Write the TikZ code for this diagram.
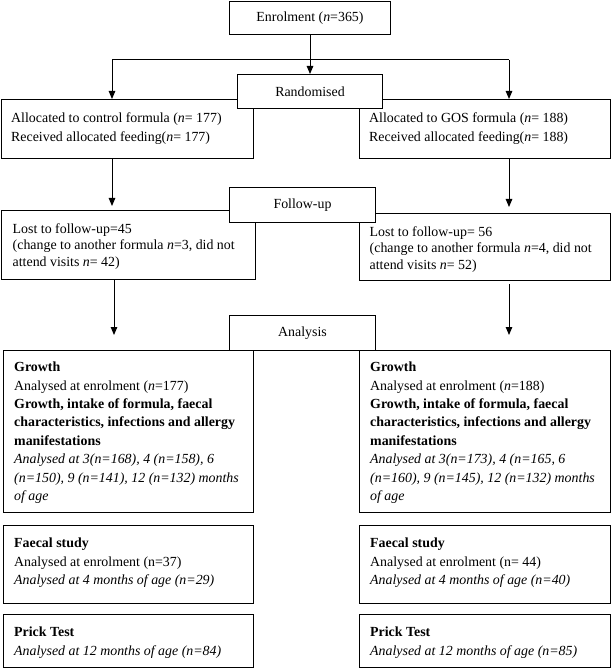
\documentclass[tikz,border=0pt]{standalone}
\usepackage{fontspec}
\setmainfont{Liberation Serif}
\usetikzlibrary{arrows.meta}
\newcommand{\firstln}{\rule{0pt}{11pt}}
\begin{document}
\begin{tikzpicture}[x=1pt,y=-1pt,
  box/.style={draw=black, line width=1pt, fill=white, inner sep=0pt, anchor=north west},
  cbox/.style={draw=black, line width=1pt, fill=white, inner sep=0pt, anchor=north west,
     font=\fontsize{13.9}{18.5}\selectfont},
  txt/.style={inner sep=0pt, anchor=north west, align=left, font=\fontsize{13.9}{18.35}\selectfont},
  txtb/.style={inner sep=0pt, anchor=north west, align=left, font=\fontsize{13.9}{16.5}\selectfont},
  arr/.style={line width=1pt, -{Triangle[length=8pt,width=6.5pt]}},
  ln/.style={line width=1pt}]
\useasboundingbox (0,0) rectangle (611,668);

% top
\node[cbox, minimum width=161pt, minimum height=33pt] (enrol) at (229,1) {Enrolment (\textit{n}=365)};
\coordinate (jL) at (112,60);
\coordinate (jR) at (509,60);

% allocation boxes
\node[box, minimum width=252pt, minimum height=59pt] (b1L) at (1,99) {};
\node[box, minimum width=251pt, minimum height=59pt] (b1R) at (359,99) {};
\node[txt] (t1L) at (11,111.7) {\firstln Allocated to control formula (\textit{n}= 177)\\Received allocated feeding(\textit{n}= 177)};
\node[txt] (t1R) at (369,111.7) {\firstln Allocated to GOS formula (\textit{n}= 188)\\Received allocated feeding(\textit{n}= 188)};
\node[cbox, minimum width=145pt, minimum height=34pt] (rand) at (237,74) {Randomised};

\draw[arr] (enrol.south) -- (rand.north);
\draw[ln] (jL) -- (jR);
\draw[arr] (jL) -- (jL |- b1L.north);
\draw[arr] (jR) -- (jR |- b1R.north);

% follow-up boxes
\node[box, minimum width=254pt, minimum height=69pt] (b2L) at (1,210) {};
\node[box, minimum width=251pt, minimum height=67pt] (b2R) at (359,213) {};
\node[txtb] (t2L) at (12.5,222) {\firstln Lost to follow-up=45\\(change to another formula \textit{n}=3, did not\\attend visits \textit{n}= 42)};
\node[txtb] (t2R) at (369.5,225) {\firstln Lost to follow-up= 56\\(change to another formula \textit{n}=4, did not\\attend visits \textit{n}= 52)};
\node[cbox, minimum width=146pt, minimum height=35pt] (fol) at (229,187) {Follow-up};

\coordinate (a2L) at (112,206);
\coordinate (a2R) at (509,207);
\draw[arr] (jL |- b1L.south) -- (a2L);
\draw[arr] (jR |- b1R.south) -- (a2R);

% analysis boxes
\node[box, minimum width=250pt, minimum height=162pt] (gL) at (3,350) {};
\node[box, minimum width=251pt, minimum height=162pt] (gR) at (359,350) {};
\node[txt] (tgL) at (14,360.7) {\firstln\textbf{Growth}\\Analysed at enrolment (\textit{n}=177)\\\textbf{Growth, intake of formula, faecal}\\\textbf{characteristics, infections and allergy}\\\textbf{manifestations}\\\textit{Analysed at 3(n=168), 4 (n=158), 6}\\\textit{(n=150), 9 (n=141), 12 (n=132) months}\\\textit{of age}};
\node[txt] (tgR) at (370,360.7) {\firstln\textbf{Growth}\\Analysed at enrolment (\textit{n}=188)\\\textbf{Growth, intake of formula, faecal}\\\textbf{characteristics, infections and allergy}\\\textbf{manifestations}\\\textit{Analysed at 3(n=173), 4 (n=165, 6}\\\textit{(n=160), 9 (n=145), 12 (n=132) months}\\\textit{of age}};
\node[cbox, minimum width=146pt, minimum height=35pt] (ana) at (229,315) {Analysis};

\coordinate (a3L) at (114,335);
\coordinate (a3R) at (509,335);
\draw[arr] (b2L.south -| a3L) -- (a3L);
\draw[arr] ([yshift=-3pt]b2R.south -| a3R) -- (a3R);

\node[box, minimum width=250pt, minimum height=78pt] (fL) at (3,525) {};
\node[box, minimum width=251pt, minimum height=78pt] (fR) at (359,525) {};
\node[txt] (tfL) at (14,536.5) {\firstln\textbf{Faecal study}\\Analysed at enrolment (n=37)\\\textit{Analysed at 4 months of age (n=29)}};
\node[txt] (tfR) at (370,536.5) {\firstln\textbf{Faecal study}\\Analysed at enrolment (n= 44)\\\textit{Analysed at 4 months of age (n=40)}};

\node[box, minimum width=250pt, minimum height=53pt] (pL) at (3,614) {};
\node[box, minimum width=251pt, minimum height=53pt] (pR) at (359,614) {};
\node[txt] (tpL) at (14,625.5) {\firstln\textbf{Prick Test}\\\textit{Analysed at 12 months of age (n=84)}};
\node[txt] (tpR) at (370,625.5) {\firstln\textbf{Prick Test}\\\textit{Analysed at 12 months of age (n=85)}};
\end{tikzpicture}
\end{document}
